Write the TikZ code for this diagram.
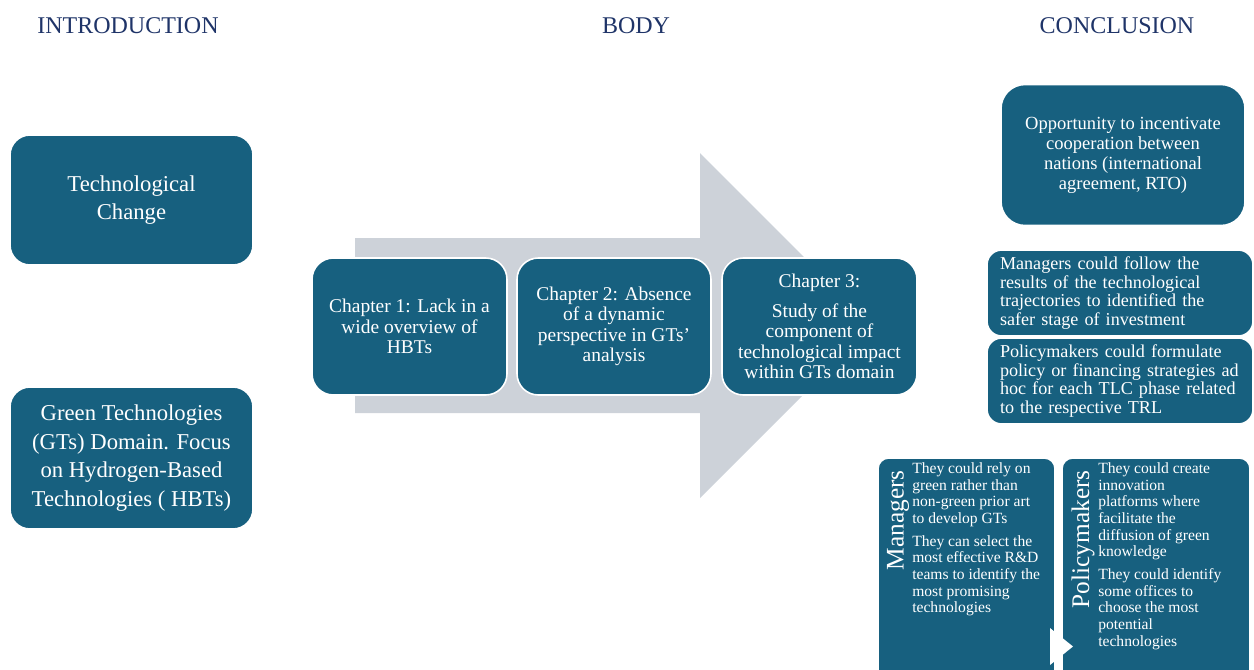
\documentclass[tikz,border=0pt]{standalone}
\usepackage{fontspec}
\setmainfont{Liberation Serif}
\definecolor{boxc}{HTML}{17607F}
\definecolor{navy}{HTML}{1F3468}
\definecolor{arrowc}{HTML}{CDD2D9}
\begin{document}
\begin{tikzpicture}[x=0.75pt,y=-0.75pt,
  bx/.style={fill=boxc, draw=white, line width=1.2pt, text=white, align=center, inner sep=0pt},
  head/.style={text=navy, font=\fontsize{18}{20}\selectfont, inner sep=0pt, anchor=base},
  big/.style={font=\fontsize{17}{21.6}\selectfont},
  chap/.style={font=\fontsize{14.6}{15.4}\selectfont},
  mid/.style={font=\fontsize{13.9}{15}\selectfont},
  tight/.style={font=\fontsize{13.6}{13.8}\selectfont},
  small/.style={font=\fontsize{11.7}{12.5}\selectfont, text=white, align=left, inner sep=0pt},
  lab/.style={font=\fontsize{19}{20}\selectfont, text=white, inner sep=0pt, rotate=90, anchor=east}
]
\useasboundingbox (0,0) rectangle (1254,669);
\clip (0,0) rectangle (1254,669);

% headers
\node[head] (intro) at (128,33) {INTRODUCTION};
\node[head] (body) at (636,33) {BODY};
\node[head] (concl) at (1117,33) {CONCLUSION};

% big arrow
\fill[arrowc] (355,238) -- (700,238) -- (700,153) -- (872.5,325.5) -- (700,498) -- (700,413) -- (355,413) -- cycle;

% introduction
\node[bx, big, rounded corners=15pt, minimum width=243*0.75pt, minimum height=130*0.75pt] (tc) at (131.5,200) {Technological\\Change};
\node[bx, big, rounded corners=15pt, minimum width=243*0.75pt, minimum height=142*0.75pt] (gt) at (131.5,458) {Green Technologies\\(GTs) Domain. Focus\\on Hydrogen-Based\\Technologies ( HBTs)};

% chapters
\node[bx, chap, rounded corners=16pt, minimum width=195*0.75pt, minimum height=137*0.75pt] (ch1) at (409.5,326.5) {Chapter 1: Lack in a\\wide overview of\\HBTs};
\node[bx, chap, rounded corners=16pt, minimum width=194*0.75pt, minimum height=137*0.75pt] (ch2) at (614,326.5) {Chapter 2: Absence\\of a dynamic\\perspective in GTs’\\analysis};
\node[bx, chap, rounded corners=16pt, minimum width=195*0.75pt, minimum height=137*0.75pt] (ch3) at (819.5,326.5) {Chapter 3:\\[7pt]Study of the\\component of\\technological impact\\within GTs domain};

% conclusion
\node[bx, mid, rounded corners=18pt, minimum width=244*0.75pt, minimum height=141*0.75pt] (opp) at (1123,155) {Opportunity to incentivate\\cooperation between\\nations (international\\agreement, RTO)};
\node[bx, tight, align=left, text width=240*0.75pt, rounded corners=11pt, minimum width=266*0.75pt, minimum height=86*0.75pt] (mgr) at (1120,293) {\mbox{Managers could follow the}\\\mbox{results of the technological}\\\mbox{trajectories to identified the}\\\mbox{safer stage of investment}};
\node[bx, tight, align=left, text width=240*0.75pt, rounded corners=11pt, minimum width=266*0.75pt, minimum height=86*0.75pt] (pol) at (1120,381) {\mbox{Policymakers could formulate}\\\mbox{policy or financing strategies ad}\\\mbox{hoc for each TLC phase related}\\\mbox{to the respective TRL}};

% bottom boxes
\node[bx, rounded corners=8pt, minimum width=177*0.75pt, minimum height=232*0.75pt] (mb) at (966.5,574) {};
\node[bx, rounded corners=8pt, minimum width=188*0.75pt, minimum height=232*0.75pt] (pb) at (1156,574) {};
\node[lab] (mblab) at (898,470) {Managers};
\node[lab] (pblab) at (1083,470) {Policymakers};
\node[small, anchor=north west] (mbtxt) at (912,462.5) {They could rely on\\green rather than\\non-green prior art\\to develop GTs\\[4.5pt]They can select the\\most effective R\&D\\teams to identify the\\most promising\\technologies};
\node[small, anchor=north west] (pbtxt) at (1098,462.5) {They could create\\innovation\\platforms where\\facilitate the\\diffusion of green\\knowledge\\[4.5pt]They could identify\\some offices to\\choose the most\\potential\\technologies};
\fill[white] (1050,628) -- (1073,646.5) -- (1050,665) -- cycle;
\coordinate (tri) at (1061,646.5);
\end{tikzpicture}
\end{document}
